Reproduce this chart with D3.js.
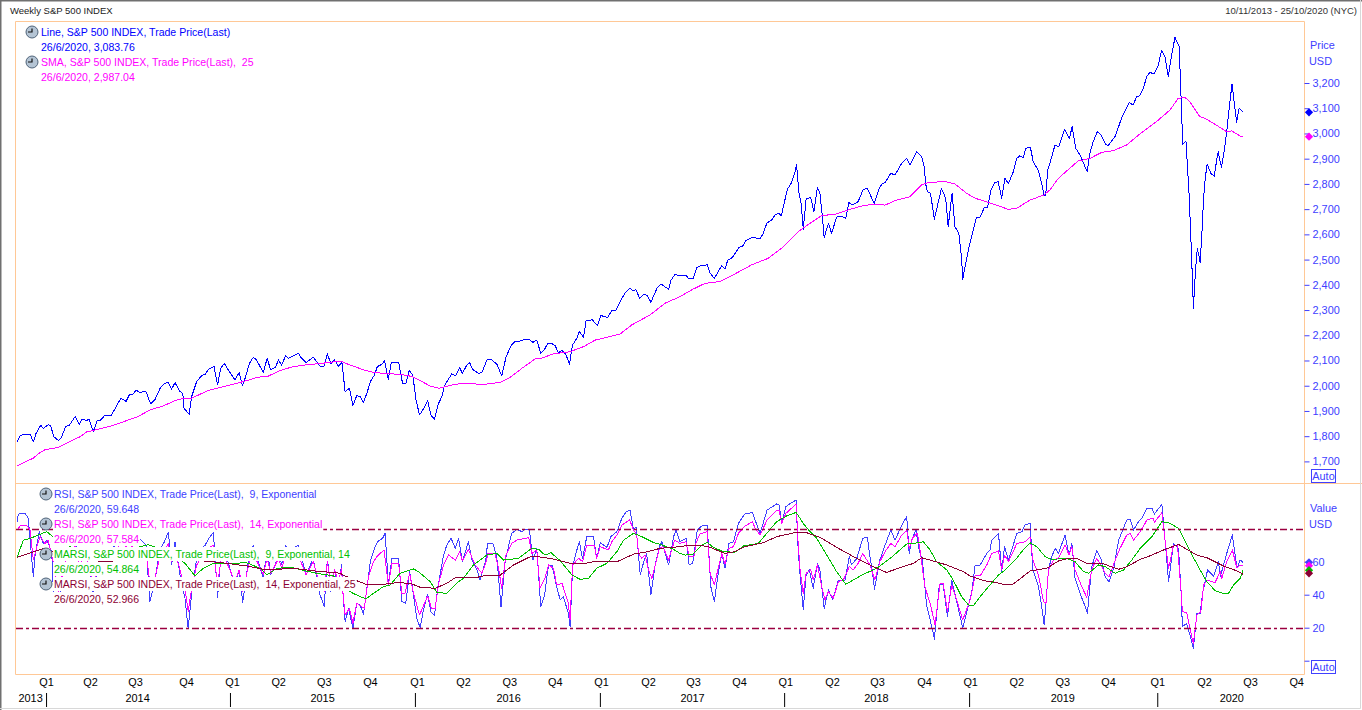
<!DOCTYPE html>
<html>
<head>
<meta charset="utf-8">
<script src="https://cdn.jsdelivr.net/npm/d3@7"></script>
<style>
html, body { margin: 0; padding: 0; background: #fff; overflow: hidden; }
svg { display: block; font-family: "Liberation Sans", Arial, sans-serif; }
.axis path.domain { display: none; }
</style>
</head>
<body>
<svg width="1362" height="710"></svg>
<script>
// [week number since 15/11/2013, value]
var price = [[0,1776],[0.8,1801],[1.8,1808],[3.7,1808],[4.6,1777],[5.4,1812],[6.7,1843],[7.4,1831],[8.8,1845],[9.5,1841],[10.4,1798],[11.7,1783],[12.6,1796],[13.7,1839],[14.7,1842],[16.4,1878],[17.6,1845],[18.3,1868],[19.5,1862],[20.4,1867],[21.5,1817],[22.7,1864],[23.6,1864],[24.8,1883],[26.5,1880],[29.3,1950],[30.8,1938],[31.7,1964],[32.6,1964],[33.6,1983],[34.5,1974],[36.4,1977],[37.7,1928],[38.9,1944],[40.5,1993],[41.8,2010],[42.7,2012],[43.6,1986],[44.6,2012],[46,1977],[46.8,1970],[47.1,1911],[48.6,1887],[49.3,1957],[50.7,2016],[52.1,2040],[53.1,2045],[54,2065],[55.6,2076],[56.6,2003],[57.5,2069],[58.5,2089],[59.6,2063],[61.5,2023],[62.7,2052],[63.6,2000],[64.3,2026],[65.6,2089],[66.7,2113],[67.6,2102],[69.5,2053],[70.6,2108],[71.6,2063],[72.9,2073],[73.8,2102],[74.7,2082],[75.8,2119],[76.6,2109],[79.4,2129],[80.3,2109],[81.6,2092],[83.6,2113],[85.5,2078],[86.7,2078],[87.6,2126],[88.6,2086],[89.6,2102],[90.7,2078],[91.7,2092],[92.6,1977],[93.8,1990],[94.8,1921],[95.9,1961],[96.8,1957],[97.8,1934],[98.9,1977],[99.7,2016],[100.9,2043],[101.7,2076],[103,2085],[103.7,2100],[104.8,2026],[105.6,2089],[106.2,2094],[107.7,2094],[108.8,2010],[109.7,2007],[110.7,2060],[111.7,2043],[112.6,1944],[113.6,1884],[114.7,1908],[115.9,1941],[116.8,1884],[117.8,1867],[118.8,1924],[119.9,1957],[120.6,1999],[122.7,2047],[123.8,2039],[124.9,2072],[125.7,2049],[126.8,2078],[127.7,2093],[128.6,2065],[130.2,2049],[131.2,2052],[132.6,2102],[134,2102],[135.4,2086],[136.8,2039],[138,2113],[139.4,2158],[140.6,2177],[142,2177],[143.2,2184],[144.5,2184],[145.6,2172],[146.7,2181],[147.8,2129],[148.8,2142],[149.7,2166],[150.9,2168],[151.9,2158],[152.8,2131],[153.8,2139],[154.9,2125],[155.9,2085],[156.8,2162],[158,2188],[158.7,2214],[159.9,2192],[160.6,2258],[162.4,2261],[163.8,2238],[164.8,2278],[166.7,2271],[167.9,2298],[169.1,2300],[170.7,2347],[171.9,2373],[173,2386],[173.8,2377],[174.7,2380],[175.7,2347],[177,2364],[177.9,2357],[178.9,2331],[180.6,2386],[181.8,2403],[183.9,2382],[184.6,2419],[185.7,2442],[186.7,2436],[188.8,2438],[189.5,2426],[190.9,2426],[191.8,2468],[192.9,2475],[194.8,2479],[195.6,2446],[196.8,2426],[198.9,2476],[199.8,2463],[200.6,2498],[201.9,2508],[203.8,2549],[204.8,2554],[205.7,2575],[207.6,2588],[209.7,2582],[210.6,2604],[211.6,2644],[213,2657],[213.9,2677],[215,2683],[215.7,2674],[217.4,2778],[218.6,2805],[219.6,2848],[220,2875],[220.7,2763],[221.3,2723],[221.9,2620],[222.7,2740],[224,2747],[224.9,2690],[225.9,2786],[226.6,2763],[227.2,2683],[227.8,2588],[229,2644],[229.9,2604],[231.3,2668],[232.3,2673],[233.9,2664],[234.8,2726],[235.7,2716],[237.4,2730],[238.8,2778],[240,2782],[241.9,2723],[243.3,2782],[244.2,2802],[245,2805],[246.6,2842],[247.8,2835],[249.7,2882],[251.1,2901],[252,2875],[253.9,2928],[255.3,2908],[256,2868],[256.5,2796],[256.9,2769],[257.8,2763],[258.9,2660],[260.9,2782],[262.1,2743],[262.8,2631],[263.9,2763],[264.7,2631],[265.8,2604],[266.6,2505],[266.9,2419],[267.2,2446],[268.9,2564],[270.8,2668],[271.8,2668],[273,2707],[273.9,2707],[274.9,2778],[276,2805],[276.9,2809],[277.9,2743],[278.8,2822],[279.8,2802],[281.2,2849],[282.1,2901],[283,2911],[284,2905],[284.7,2941],[286,2945],[286.8,2888],[288.2,2855],[289.2,2802],[289.8,2756],[290.3,2756],[290.9,2855],[291.5,2882],[292.9,2952],[294,2948],[295.6,3016],[297,2981],[297.8,3027],[298.8,2941],[300,2915],[302,2849],[302.8,2921],[303.7,2967],[304.9,3007],[305.9,2994],[307.2,2958],[308,2952],[310,2990],[311.7,3060],[313.9,3122],[315,3113],[316,3146],[316.9,3150],[317.9,3179],[318.8,3225],[319.7,3242],[320.9,3236],[322.1,3271],[323,3328],[324,3304],[324.9,3225],[325.7,3298],[326.8,3381],[328,3344],[329,2957],[329.9,2971],[330.8,2756],[331.5,2510],[332,2307],[332.2,2360],[332.6,2459],[333.1,2545],[333.6,2512],[333.9,2489],[334.4,2604],[334.9,2750],[335.4,2829],[335.9,2878],[336.9,2842],[337.9,2831],[338.5,2888],[339,2928],[339.9,2866],[340.6,2921],[341.4,3007],[342.1,3100],[342.9,3196],[343.5,3126],[344.2,3044],[344.9,3100],[346,3084]];

var sma = [[0,1682],[4.6,1713],[6,1730],[7.9,1746],[11.7,1756],[15,1779],[17.8,1798],[19.7,1817],[23.4,1829],[27.7,1845],[31.4,1864],[34.2,1878],[37.5,1904],[41.3,1920],[44.6,1941],[46.9,1950],[49.3,1950],[51.6,1966],[54,1981],[57.3,1993],[61,2006],[64.8,2020],[68.1,2034],[70.9,2038],[74.2,2060],[78,2076],[81.3,2082],[85.5,2088],[89.3,2094],[91.2,2098],[94,2082],[97.8,2063],[100.6,2053],[103.4,2049],[108.1,2045],[111.4,2037],[113.8,2020],[116.6,1999],[119,1990],[120.8,1996],[123.7,2006],[127.4,2010],[130.2,2006],[133.1,2007],[136.8,2015],[139.2,2034],[142.5,2069],[146.2,2106],[148.6,2111],[150.9,2125],[156.1,2135],[159.9,2155],[163.2,2181],[167.4,2195],[170.2,2205],[173.5,2241],[178.7,2281],[182.9,2327],[187.1,2353],[190.4,2380],[194.2,2406],[198.4,2413],[202.6,2443],[207.3,2479],[212,2505],[216.3,2551],[220.5,2611],[223.8,2644],[227.1,2674],[231.3,2681],[235.1,2699],[238.8,2714],[242.1,2720],[245,2716],[248.2,2736],[252,2749],[255.3,2796],[257.2,2806],[261.9,2809],[264.7,2800],[268,2763],[270.4,2743],[274.1,2727],[279.8,2699],[282.1,2703],[285.9,2736],[289.8,2756],[291.5,2776],[293.9,2822],[297.6,2868],[299.5,2891],[302.8,2901],[306.1,2925],[309.4,2932],[313.1,2954],[316.9,2998],[321.6,3047],[325.4,3093],[327.7,3139],[329.6,3143],[331,3126],[333.8,3067],[335.7,3057],[339.5,3024],[341.4,3007],[342.8,3010],[345.6,2987],[346,2987]];

var rsi9 = [[0,84.2],[0.4,88.9],[2.3,89.3],[3.2,86.3],[3.7,73.1],[4.6,50.9],[5.1,64],[6.3,78.2],[7.4,71.1],[8.4,73.1],[9.8,66],[10.3,40.8],[11.7,34],[13.7,62],[16.4,76],[17.6,58],[19.5,66],[21.5,40],[23.6,62],[26.5,66],[29.3,76],[31.7,72],[33.6,76],[36.4,70],[37.5,35.8],[38.9,48],[40.2,67],[41.6,72],[42.7,78],[43.6,58],[44.6,72],[46,52],[47.4,38],[48.3,19.6],[49.3,40.8],[50.7,62],[52.1,68],[53.1,70],[54,73.7],[55.4,77.8],[55.8,66],[56.6,38],[57.5,62],[58.5,68],[61.5,45],[62.7,55],[63.7,35.2],[65.6,65],[66.7,70],[69.5,50],[70.6,68],[71.6,52],[72.9,58],[73.8,66],[74.7,58],[75.8,70],[76.6,66],[79.4,70],[81.6,52],[83.6,62],[85.5,40],[86.7,33],[87.6,62],[88.6,42],[89.6,55],[90.7,45],[91.6,58],[92,40.8],[92.6,23.7],[93.6,31.7],[94.8,19.6],[95.9,34.8],[96.8,33.8],[97.8,28.3],[98.7,42.9],[99.7,60],[101.1,69.1],[102,72.7],[103.2,74.2],[103.9,77.2],[104.8,46.5],[105.8,62.1],[107.7,62.1],[108.6,35.8],[109.7,34.8],[110.8,54],[111.7,42.9],[112.8,25.7],[113.8,20],[114.7,30.7],[115.9,40.4],[116.8,29.7],[117.8,27.3],[118.8,44.9],[120.4,64.1],[121.3,70.1],[122.5,74.2],[123.7,68.1],[124.6,74.2],[125.7,60],[127.4,72.1],[128.4,61],[129.8,55],[130.7,48.9],[132.3,61],[132.8,71.1],[134.3,71.1],[135.4,63],[136.6,32.7],[137.8,61],[139.6,77.2],[141.1,79.6],[142.5,78.2],[143.4,79.6],[144.6,79.6],[145.6,61],[146.7,68.1],[147.8,32.7],[148.9,39.8],[150,58],[151,58],[152.3,44.9],[153.3,36.8],[154.2,38.8],[155.6,28.7],[156.1,20.6],[156.8,57],[158,67.1],[158.7,72.1],[159.6,62],[160.8,75.2],[162.7,75.2],[163.6,62],[164.6,71.5],[166.5,68.7],[167.6,75.2],[169.3,78.2],[170.7,86.3],[171.9,90.3],[173,91.3],[174,79.2],[174.7,81.2],[175.4,64.1],[175.9,52],[177,61],[177.7,65],[178.9,39.8],[180.1,58],[181.3,69.1],[182,72.1],[183.9,58],[185.3,75.2],[186,79.2],[187.1,72.1],[188.8,74.2],[189.7,58],[190.7,59],[191.6,73.1],[192,79.2],[193.2,81.6],[194.8,82.2],[195.8,44.9],[196.8,35.8],[197.9,53],[198.9,65],[199.8,56],[200.9,71.1],[202.2,72.1],[203.6,83.2],[205.4,88.9],[207.6,89.9],[208.3,85.3],[209.7,77.2],[211.7,91.3],[214.4,95],[215.1,94.4],[215.8,83.2],[217,93.4],[218.6,95.8],[219.9,97.4],[220.3,73.1],[220.8,57],[221.9,31.1],[222.7,51.9],[223.6,55],[224.7,43.9],[225.9,59],[226.6,55],[227.8,31.7],[229,42.9],[230.2,36.8],[231.8,48.9],[233.7,48.9],[234.9,63],[235.5,58],[237,62],[238.7,74.2],[240,74.8],[240.7,63],[241.2,57],[242,43.3],[243.5,61],[245,70.1],[246.6,79.2],[247.8,73.1],[249.7,82.2],[251.1,87.3],[251.8,65],[252.5,73.1],[253.7,79.2],[254.6,67.1],[255.5,61],[256.7,33.8],[258.6,16.6],[258.9,13.1],[260.3,45.9],[261.4,45.9],[262.6,26.7],[263.8,48.9],[265.2,35.8],[266.9,20],[269.4,40.8],[270.4,58],[271.8,58],[273.7,65],[274.6,67.1],[275.1,73.1],[277,77.2],[277.9,54],[278.7,69.1],[279.8,61],[282.2,77.2],[283.6,78.2],[284.5,82.2],[285.9,83.2],[286.7,55],[288.3,44.9],[289.2,32.7],[289.9,21.6],[291.1,55],[292,63],[293,68.1],[293.9,65],[295.8,76.2],[296.9,64],[297.7,71.1],[298.6,49.9],[300,40.8],[301.5,32.7],[302.1,28.7],[303.3,57],[304.7,66.5],[305.9,62],[307.1,50.9],[308.2,47.9],[309.6,57],[310.9,73.1],[313.2,85.3],[314.2,85.7],[315.1,79.2],[316.5,84.3],[317.4,86.3],[318.9,92.3],[320.3,92.3],[321,88.9],[323.1,94.8],[324,73.1],[325,47.9],[326.4,71.1],[327.8,68.1],[328.5,42.8],[328.9,20.6],[330.1,22.6],[331.3,13.6],[332,7.5],[333,28.7],[333.9,28.7],[334.6,40.8],[336,55],[337.7,51.3],[339.1,60],[339.6,50.9],[341.4,65],[343,76.2],[344.3,56],[345.2,61],[346,59.6]];

var rsi14 = [[0,79.2],[1.1,82.2],[2.7,82.2],[3.7,79.2],[4.6,61],[5.6,69.1],[6.5,75.2],[7.9,71.1],[8.8,73.1],[10.3,59],[11.7,42],[13.7,60],[16.4,70],[17.6,58],[19.5,64],[21.5,46],[23.6,60],[26.5,63],[29.3,71],[31.7,68],[33.6,71],[36.4,66],[37.5,47],[38.9,50],[40.2,62],[41.6,66],[42.7,71],[43.6,60],[44.6,66],[46,55],[47.4,44],[48.3,30],[49.4,45],[50.7,58],[52.1,63],[54,68],[55.4,70],[55.8,60],[56.6,46],[57.5,60],[58.5,63],[61.5,48],[62.7,55],[63.7,42],[65.6,60],[66.7,65],[69.5,52],[70.6,62],[71.6,53],[72.9,58],[73.8,62],[74.7,56],[75.8,64],[76.6,62],[79.4,64],[81.6,52],[83.6,60],[85.5,46],[86.7,42],[87.6,60],[88.6,46],[89.6,55],[90.7,48],[91.6,56],[92,40.8],[92.6,27.7],[93.8,31.7],[94.8,22.7],[95.9,34.8],[98,31.7],[99.2,50.9],[100.6,60],[101.7,63.5],[103.6,67.1],[104.8,45.9],[105.8,59],[107.7,59],[108.6,40.8],[109.5,40.8],[110.8,53],[111.9,40.8],[113.6,27.7],[115.9,39.2],[117,31.7],[118,31.7],[119,46.9],[120.4,58],[121.8,64.1],[123.7,61],[124.9,66.1],[125.7,60.6],[127.4,67.5],[129.3,58],[131.2,53],[132.3,59],[132.9,65],[134.9,65],[135.9,56],[136.8,43.9],[138,64.1],[139.6,71.1],[141.1,73.1],[144.4,74.6],[145.3,65],[146.7,67.1],[147.6,43.9],[149,49.9],[150,58],[151.4,56],[152.3,45.9],[153.8,46.9],[155.6,34.8],[156.1,24.7],[156.8,58],[158.5,62],[159.6,60],[160.8,70.1],[162.9,70.1],[163.6,62],[164.6,69.1],[166.9,67.1],[167.9,72.1],[169.3,76.2],[170.7,82.2],[172.9,85.3],[174,79.2],[174.9,76.2],[175.4,65],[176.3,62],[177.3,64],[178.2,55],[179.2,49.9],[180.1,58],[181.3,68.1],[182.3,69.1],[183.9,61],[185.6,73.1],[187.1,71.1],[188.8,72.1],[189.7,63],[191.1,63.5],[191.6,71.1],[192.7,76.8],[194.8,78.2],[195.6,53],[196.8,45.9],[197.9,56],[198.9,65],[199.8,58.6],[200.9,68.1],[202.2,69.1],[203.6,77.2],[205.4,81.6],[207.6,84.3],[208.3,80.2],[209.7,76.2],[211.7,85.3],[214.4,91.3],[215.1,91.3],[215.8,83.2],[217,89.3],[219.9,95],[220.4,73.1],[221,55],[221.9,40.8],[222.7,53],[224,55],[224.7,48.9],[225.9,58],[227.1,44.9],[228,36.8],[229,41.9],[230.4,37.8],[231.8,47.9],[233.2,48.9],[234.9,57],[236,55],[237.4,59],[238.7,65],[240.7,58],[242.1,48.9],[243.5,60],[245,66.1],[246.6,71.1],[247.8,69.1],[249.7,76.2],[251.1,79.2],[251.8,68.1],[252.7,74.2],[254.1,77.2],[255,65],[256.2,44.9],[257.7,34.8],[259.1,21.6],[260.5,46.9],[261.4,46.9],[262.6,29.7],[263.8,45.9],[265.2,36.8],[266.9,24.7],[269,36.8],[270.4,51.9],[271.8,51.3],[273.7,58],[275.1,65],[277,66.5],[277.9,55],[278.7,64],[279.8,60],[282.2,71.1],[284.5,72.1],[285.9,74.8],[286.7,61],[288.3,51.9],[289.7,35.8],[290.4,34.8],[291.1,55],[292.5,61],[293.9,62],[295.8,70.1],[296.9,64],[297.7,69.1],[298.6,55],[300.5,44.9],[301.9,38.4],[303.3,55],[304.7,62],[305.9,58],[307.1,53],[308.2,50.9],[309.6,59],[311.3,68.1],[313.2,76.2],[314.2,77.2],[315.1,73.1],[317,78.2],[318.9,85.3],[320.6,86.3],[321,83.9],[323.1,89.7],[324,73.1],[325,56],[326.4,70.1],[327.5,70.1],[328.5,42.8],[328.9,29.7],[330.1,29.3],[331.1,18.6],[332,10.5],[333,27.7],[334.1,29.7],[334.9,45.9],[336,48.9],[338.1,47.3],[339.6,54],[340,49.9],[341.4,60],[343,67.1],[344.3,56],[345.2,58],[346,57.6]];

var marsi9 = [[0,62.6],[1.8,73.1],[3.7,74.1],[6,76.2],[8.4,78.2],[10.3,74.8],[14,70],[20,65],[28,66],[33,68],[37,70.3],[43.2,66],[47.4,59],[50.2,51.5],[52.6,56],[55.4,59],[61,59],[64.8,59.4],[68.6,56],[70.5,51.9],[73.3,56],[77.5,56.6],[80.3,55],[84.6,52.9],[89.3,51.5],[92,45],[94.5,41.2],[95.9,39.8],[98.5,37.4],[100.6,40.8],[103.4,44.9],[105.3,45.9],[108.1,53],[111.9,55.6],[113.3,54],[116.6,47.9],[118.5,41.4],[121.3,40.8],[124.6,47.9],[126,49.9],[128.8,58],[132.6,64.1],[135.4,65],[137.3,61],[141.5,62],[145.3,68.1],[147.2,67.5],[149,64],[150.7,65.5],[153.3,60.6],[156.6,52],[158.9,49.3],[161.3,49.9],[163.6,56],[166.5,59],[169.3,66.1],[171.2,73.1],[174,77.2],[176.3,75.2],[179.6,71.7],[182,70.1],[185.3,67.5],[187.1,65],[188.5,64],[190.9,64.7],[193.2,70.1],[194.8,71.7],[196.5,68.7],[199.3,66.1],[202.6,65.7],[205,69.5],[209.2,71.1],[212,78.2],[214.4,84.3],[217.2,87.7],[219.9,89.9],[221.9,83.2],[223.8,78.2],[225.7,74.2],[228.5,64.1],[231.3,54],[233.9,46.3],[236,48.9],[238.4,51.9],[242.6,56],[246.4,62],[251.1,70.7],[253,71.1],[255.8,72.1],[257.7,67.1],[259.5,60],[262.4,55],[264.2,48.9],[266.6,38.8],[268.5,33.8],[269.9,33.4],[271.8,38.8],[274.6,45.9],[277,51.9],[278.9,55],[281.7,61],[284.1,67.5],[285.9,71.5],[287.8,69.1],[290.2,63],[292,61.4],[296.3,62],[298.6,60],[301,54],[302.4,53],[305.2,58],[307.1,57],[309.9,53],[312.3,55],[314.6,61],[317,68.1],[320.3,75.2],[323.1,84.3],[325.4,83.3],[327.8,80.2],[331.1,66.1],[333.9,55],[335.8,47.9],[338.1,42.5],[340.5,40.8],[341.9,40.8],[343.3,45.9],[345.2,49.9],[346,54.9]];

var marsi14 = [[0,62.6],[4.6,66],[7.4,68],[15,62],[25,60],[35,62],[45,62],[55,60],[59.2,59],[64.8,57.4],[70.5,55],[78,56],[81.7,55],[85.5,54],[89.3,53.5],[91.2,53],[92.6,51.3],[95.4,48.9],[98.5,46.3],[103.4,46.3],[107.2,47.3],[111,46.9],[113.8,44.5],[118,43.9],[121.3,46.9],[123.7,50.3],[129.8,50.5],[132.6,51.9],[136.4,51.9],[140.1,58],[145.3,63.5],[150.5,62],[156.1,59],[159.4,58.6],[163.6,60.4],[169.3,60],[174.5,65],[176.8,65.5],[181.5,68.1],[187.1,69.1],[189.9,70.1],[192.7,70.1],[195.6,68.7],[199.8,65],[202.6,66.1],[205.4,69.1],[210.6,71.5],[214.4,75.2],[220,77.8],[222.8,77.6],[226.6,74.8],[232.3,67.5],[237,62],[241.7,57],[245.4,53.5],[248.2,55.6],[253,59],[255.3,62.4],[260,59.6],[262.4,58],[267.1,54],[269,51.3],[272.8,48.5],[276.1,47.5],[278.4,46.3],[281,46.3],[283.6,50.5],[285.9,54.4],[290.6,56],[293.9,60.4],[296.3,61.8],[299.1,62],[301.9,59],[306.2,59],[310.9,55.4],[313.2,57],[317,61.4],[320.3,64],[323.1,66.7],[327.8,70.5],[330.1,67.5],[333,64],[335.8,62.4],[340.5,57.4],[344.3,54.4],[346,52.4]];

var priceTicks = [1700,1800,1900,2000,2100,2200,2300,2400,2500,2600,2700,2800,2900,3000,3100,3200];
var valueTicks = [0,20,40,60];
var rsiLevels = [80,20];
var lastPrices = [3083.76,2987.04];
var lastValues = [59.648,57.584,54.864,52.966];

var quarterWeeks = [8.2,20.6,33.3,47.7,60.7,73.7,86.6,99.6,112.9,125.9,138.9,151.8,164.8,178.1,190.8,203.8,216.8,230,242.7,256,269,282,295,307.9,321.8,335,348,361];
var quarterNames = ["Q1","Q2","Q3","Q4"];
var yearWeeks = [3.7,33.9,86.1,138.6,190.5,242.4,295,342.7];
var yearNames = ["2013","2014","2015","2016","2017","2018","2019","2020"];
var yearTickWeeks = [8.2,60.1,112.3,164.5,216.5,268.7,321.8];

var priceColors = ["#0000ff","#ff00ff"];
var valueColors = ["#4040ff","#ff00ff","#00c000","#8b0033"];
var priceLegend = ["Line, S&P 500 INDEX, Trade Price(Last)","26/6/2020, 3,083.76","SMA, S&P 500 INDEX, Trade Price(Last),  25","26/6/2020, 2,987.04"];
var valueLegend = ["RSI, S&P 500 INDEX, Trade Price(Last),  9, Exponential","26/6/2020, 59.648","RSI, S&P 500 INDEX, Trade Price(Last),  14, Exponential","26/6/2020, 57.584","MARSI, S&P 500 INDEX, Trade Price(Last),  9, Exponential, 14","26/6/2020, 54.864","MARSI, S&P 500 INDEX, Trade Price(Last),  14, Exponential, 25","26/6/2020, 52.966"];

function main(){
    var svg = d3.select("svg");
    var axisBlue = "#4040ff", frame = "#ffc896", fontSize = 10.55, titleSize = 9.5, axisSize = 10.9;

    var x = d3.scaleLinear().domain([0,346]).range([17,1243]);
    var yPrice = d3.scaleLinear().domain([1700,3200]).range([461.4,83]);
    var yValue = d3.scaleLinear().domain([0,60]).range([660.7,561.7]);

    function drawLine(data, y, color){
        var line = d3.line().x(function(d){ return x(d[0]); }).y(function(d){ return y(d[1]); });
        svg.append("path")
            .attr("d", line(data))
            .attr("fill", "none")
            .attr("stroke", color)
            .attr("stroke-width", 1)
            .attr("stroke-linejoin", "round")
            .attr("shape-rendering", "crispEdges");
    }

    drawLine(price, yPrice, priceColors[0]);
    drawLine(sma, yPrice, priceColors[1]);
    drawLine(rsi9, yValue, valueColors[0]);
    drawLine(rsi14, yValue, valueColors[1]);
    drawLine(marsi9, yValue, valueColors[2]);
    drawLine(marsi14, yValue, valueColors[3]);

    svg.selectAll(".level")
        .data(rsiLevels)
        .enter().append("line")
        .attr("class", "level")
        .attr("x1", 16).attr("x2", 1304)
        .attr("y1", function(d){ return Math.round(yValue(d)) + 0.5; })
        .attr("y2", function(d){ return Math.round(yValue(d)) + 0.5; })
        .attr("stroke", "#9b0040")
        .attr("stroke-width", 1.4)
        .attr("stroke-dasharray", "7 3 3 3");

    // legend rows sit on white boxes that hide the lines behind them
    function drawLegend(rows, colors, textX, iconX, firstY){
        rows.forEach(function(row, i){
            var rowY = firstY + i * 15;
            var color = colors[Math.floor(i / 2)];
            var box = svg.append("rect").attr("fill", "#fff");
            var label = svg.append("text")
                .attr("x", textX)
                .attr("y", rowY + 4)
                .attr("font-size", fontSize)
                .attr("fill", color)
                .attr("xml:space", "preserve")
                .style("white-space", "pre")
                .text(row);
            box.attr("x", textX - 1).attr("y", rowY - 7)
                .attr("width", label.node().getComputedTextLength() + 2)
                .attr("height", 14);
            if (i % 2 == 0) {
                svg.append("circle")
                    .attr("cx", iconX).attr("cy", rowY).attr("r", 6)
                    .attr("fill", "#b4c4d4").attr("stroke", "#50647a");
                svg.append("path")
                    .attr("d", "M" + iconX + "," + (rowY - 3.5) + "V" + rowY + "H" + (iconX - 4))
                    .attr("fill", "none").attr("stroke", "#111").attr("stroke-width", 1.2);
            }
        });
    }
    drawLegend(priceLegend, priceColors, 41, 32, 32);
    drawLegend(valueLegend, valueColors, 54, 46, 494);

    // frame
    svg.append("path")
        .attr("d", "M15.5,674.5V21.5H1304.5V674.5H15.5")
        .attr("fill", "none").attr("stroke", frame);
    svg.append("line")
        .attr("x1", 15).attr("x2", 1362).attr("y1", 483.5).attr("y2", 483.5)
        .attr("stroke", frame);

    // window edge
    svg.append("path").attr("d", "M0.75,710V0.75H1362").attr("fill", "none").attr("stroke", "#707070").attr("stroke-width", 1.5);
    svg.append("path").attr("d", "M0,708.5H1360.5V0").attr("fill", "none").attr("stroke", "#d8d8d8");

    function styleAxis(g, color){
        g.attr("class", "axis");
        g.selectAll("text").attr("fill", color).attr("font-size", axisSize).attr("font-family", "Liberation Sans, Arial, sans-serif");
        g.selectAll("line").attr("stroke", color);
    }

    svg.append("g")
        .attr("transform", "translate(1304.5,0)")
        .call(d3.axisRight(yPrice).tickValues(priceTicks).tickFormat(d3.format(",")).tickSize(5).tickPadding(3))
        .call(styleAxis, axisBlue);
    svg.append("g")
        .attr("transform", "translate(1304.5,0)")
        .call(d3.axisRight(yValue).tickValues(valueTicks).tickFormat(function(d){ return d ? d : ""; }).tickSize(5).tickPadding(3))
        .call(styleAxis, axisBlue);

    svg.append("g")
        .attr("transform", "translate(0,678)")
        .call(d3.axisBottom(x).tickValues(quarterWeeks).tickSize(0).tickPadding(0)
            .tickFormat(function(d, i){ return quarterNames[i % 4]; }))
        .call(styleAxis, "#000");
    svg.append("g")
        .attr("transform", "translate(0,694)")
        .call(d3.axisBottom(x).tickValues(yearWeeks).tickSize(0).tickPadding(0)
            .tickFormat(function(d, i){ return yearNames[i]; }))
        .call(styleAxis, "#000");
    svg.append("g")
        .attr("transform", "translate(0,693)")
        .call(d3.axisBottom(x).tickValues(yearTickWeeks).tickSize(14).tickFormat(""))
        .call(styleAxis, "#000");

    // last value markers, squares turned on a corner
    var diamond = d3.symbol().type(d3.symbolSquare).size(34);
    svg.selectAll(".lastPrice")
        .data(lastPrices)
        .enter().append("path")
        .attr("class", "lastPrice")
        .attr("d", diamond)
        .attr("fill", function(d, i){ return priceColors[i]; })
        .attr("transform", function(d){ return "translate(1309," + yPrice(d) + ") rotate(45)"; });
    svg.selectAll(".lastValue")
        .data(lastValues)
        .enter().append("path")
        .attr("class", "lastValue")
        .attr("d", diamond)
        .attr("fill", function(d, i){ return valueColors[i]; })
        .attr("transform", function(d){ return "translate(1309," + yValue(d) + ") rotate(45)"; });

    // titles and side captions
    svg.append("text").attr("x", 10).attr("y", 14).attr("font-size", titleSize).attr("fill", "#222").text("Weekly S&P 500 INDEX");
    svg.append("text").attr("x", 1357).attr("y", 14).attr("text-anchor", "end").attr("font-size", titleSize).attr("fill", "#333").text("10/11/2013 - 25/10/2020 (NYC)");
    svg.append("text").attr("x", 1310).attr("y", 49).attr("font-size", axisSize).attr("fill", axisBlue).text("Price");
    svg.append("text").attr("x", 1309).attr("y", 65).attr("font-size", axisSize).attr("fill", axisBlue).text("USD");
    svg.append("text").attr("x", 1310).attr("y", 512).attr("font-size", axisSize).attr("fill", axisBlue).text("Value");
    svg.append("text").attr("x", 1309).attr("y", 528).attr("font-size", axisSize).attr("fill", axisBlue).text("USD");

    [469.5, 660.5].forEach(function(boxY){
        svg.append("rect")
            .attr("x", 1311.5).attr("y", boxY).attr("width", 24).attr("height", 13)
            .attr("fill", "#fff").attr("stroke", axisBlue);
        svg.append("text")
            .attr("x", 1323.5).attr("y", boxY + 10.5)
            .attr("text-anchor", "middle")
            .attr("font-size", axisSize).attr("fill", axisBlue)
            .text("Auto");
    });
}
main();
</script>
</body>
</html>
